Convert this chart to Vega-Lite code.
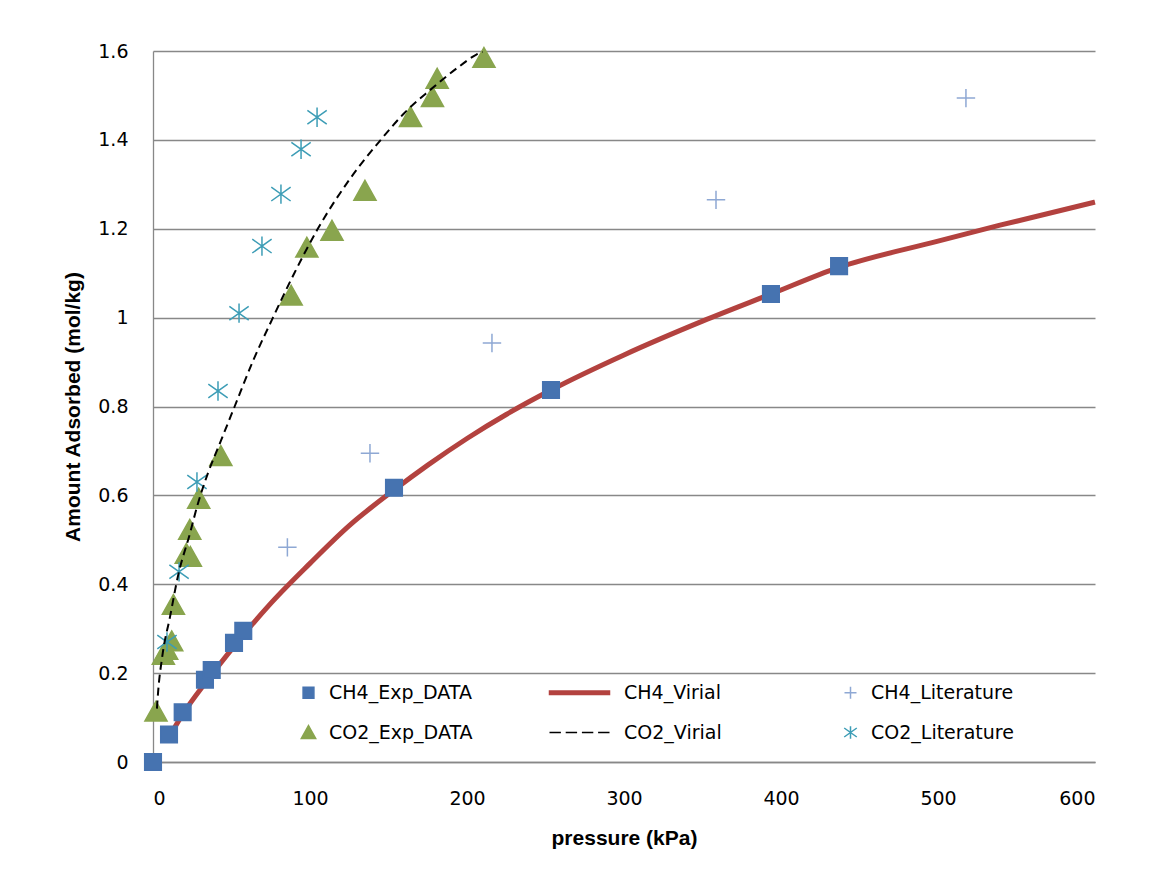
{
  "$schema": "https://vega.github.io/schema/vega-lite/v6.json",
  "autosize": {"type": "none"},
  "padding": {"left": 153, "top": 51, "right": 63, "bottom": 126},
  "width": 942,
  "height": 711,
  "background": "white",
  "config": {"view": {"stroke": null}},
  "datasets": {
    "pts": [
      {"series": "CH4_Exp_DATA", "p": 0, "q": 0},
      {"series": "CH4_Exp_DATA", "p": 10.2, "q": 0.062},
      {"series": "CH4_Exp_DATA", "p": 18.9, "q": 0.112},
      {"series": "CH4_Exp_DATA", "p": 33.1, "q": 0.185},
      {"series": "CH4_Exp_DATA", "p": 37.4, "q": 0.207},
      {"series": "CH4_Exp_DATA", "p": 51.6, "q": 0.268},
      {"series": "CH4_Exp_DATA", "p": 57.5, "q": 0.295},
      {"series": "CH4_Exp_DATA", "p": 153.5, "q": 0.617},
      {"series": "CH4_Exp_DATA", "p": 253.5, "q": 0.837},
      {"series": "CH4_Exp_DATA", "p": 393.6, "q": 1.053},
      {"series": "CH4_Exp_DATA", "p": 437, "q": 1.116},
      {"series": "CO2_Exp_DATA", "p": 1.9, "q": 0.113},
      {"series": "CO2_Exp_DATA", "p": 6.6, "q": 0.241},
      {"series": "CO2_Exp_DATA", "p": 8.7, "q": 0.252},
      {"series": "CO2_Exp_DATA", "p": 11.9, "q": 0.271},
      {"series": "CO2_Exp_DATA", "p": 13, "q": 0.353},
      {"series": "CO2_Exp_DATA", "p": 21.2, "q": 0.468},
      {"series": "CO2_Exp_DATA", "p": 23.8, "q": 0.461},
      {"series": "CO2_Exp_DATA", "p": 23.4, "q": 0.522},
      {"series": "CO2_Exp_DATA", "p": 29.1, "q": 0.592},
      {"series": "CO2_Exp_DATA", "p": 43.2, "q": 0.688},
      {"series": "CO2_Exp_DATA", "p": 88, "q": 1.049},
      {"series": "CO2_Exp_DATA", "p": 98, "q": 1.157},
      {"series": "CO2_Exp_DATA", "p": 114, "q": 1.195},
      {"series": "CO2_Exp_DATA", "p": 135, "q": 1.285},
      {"series": "CO2_Exp_DATA", "p": 164, "q": 1.451},
      {"series": "CO2_Exp_DATA", "p": 178, "q": 1.496},
      {"series": "CO2_Exp_DATA", "p": 181, "q": 1.537},
      {"series": "CO2_Exp_DATA", "p": 210.8, "q": 1.584},
      {"series": "CH4_Literature", "p": 85.6, "q": 0.483},
      {"series": "CH4_Literature", "p": 138.2, "q": 0.695},
      {"series": "CH4_Literature", "p": 215.9, "q": 0.943},
      {"series": "CH4_Literature", "p": 358.6, "q": 1.265},
      {"series": "CH4_Literature", "p": 517.8, "q": 1.494},
      {"series": "CO2_Literature", "p": 8.9, "q": 0.27},
      {"series": "CO2_Literature", "p": 16.6, "q": 0.428},
      {"series": "CO2_Literature", "p": 28, "q": 0.63},
      {"series": "CO2_Literature", "p": 41.4, "q": 0.835},
      {"series": "CO2_Literature", "p": 54.8, "q": 1.01},
      {"series": "CO2_Literature", "p": 69.4, "q": 1.161},
      {"series": "CO2_Literature", "p": 81.5, "q": 1.278},
      {"series": "CO2_Literature", "p": 94.3, "q": 1.379},
      {"series": "CO2_Literature", "p": 104.5, "q": 1.451}
    ],
    "lines": [
      {"series": "CH4_Virial", "p": 10, "q": 0.055},
      {"series": "CH4_Virial", "p": 18.5, "q": 0.105},
      {"series": "CH4_Virial", "p": 33.8, "q": 0.18},
      {"series": "CH4_Virial", "p": 52, "q": 0.262},
      {"series": "CH4_Virial", "p": 75, "q": 0.357},
      {"series": "CH4_Virial", "p": 100, "q": 0.447},
      {"series": "CH4_Virial", "p": 125, "q": 0.532},
      {"series": "CH4_Virial", "p": 153.5, "q": 0.612},
      {"series": "CH4_Virial", "p": 175, "q": 0.668},
      {"series": "CH4_Virial", "p": 200, "q": 0.728},
      {"series": "CH4_Virial", "p": 225, "q": 0.782},
      {"series": "CH4_Virial", "p": 253.5, "q": 0.837},
      {"series": "CH4_Virial", "p": 300, "q": 0.916},
      {"series": "CH4_Virial", "p": 350, "q": 0.992},
      {"series": "CH4_Virial", "p": 393.6, "q": 1.053},
      {"series": "CH4_Virial", "p": 436, "q": 1.112},
      {"series": "CH4_Virial", "p": 500, "q": 1.172},
      {"series": "CH4_Virial", "p": 539.5, "q": 1.208},
      {"series": "CH4_Virial", "p": 600, "q": 1.26},
      {"series": "CO2_Virial", "p": 2.5, "q": 0.12},
      {"series": "CO2_Virial", "p": 3.2, "q": 0.155},
      {"series": "CO2_Virial", "p": 6, "q": 0.24},
      {"series": "CO2_Virial", "p": 10.8, "q": 0.326},
      {"series": "CO2_Virial", "p": 16, "q": 0.42},
      {"series": "CO2_Virial", "p": 23.6, "q": 0.515},
      {"series": "CO2_Virial", "p": 28, "q": 0.574},
      {"series": "CO2_Virial", "p": 35, "q": 0.65},
      {"series": "CO2_Virial", "p": 42.7, "q": 0.718},
      {"series": "CO2_Virial", "p": 52, "q": 0.8},
      {"series": "CO2_Virial", "p": 64, "q": 0.905},
      {"series": "CO2_Virial", "p": 76.4, "q": 1.0},
      {"series": "CO2_Virial", "p": 90, "q": 1.1},
      {"series": "CO2_Virial", "p": 104.5, "q": 1.197},
      {"series": "CO2_Virial", "p": 125, "q": 1.31},
      {"series": "CO2_Virial", "p": 146, "q": 1.404},
      {"series": "CO2_Virial", "p": 160, "q": 1.46},
      {"series": "CO2_Virial", "p": 176.4, "q": 1.512},
      {"series": "CO2_Virial", "p": 195, "q": 1.565},
      {"series": "CO2_Virial", "p": 206, "q": 1.592},
      {"series": "CO2_Virial", "p": 210, "q": 1.598}
    ]
  },
  "encoding": {
    "x": {
      "field": "p", "type": "quantitative",
      "scale": {"domain": [0, 600], "nice": false, "zero": false},
      "axis": {
        "values": [0, 100, 200, 300, 400, 500, 600],
        "grid": false, "ticks": false, "tickSize": 0,
        "domain": true, "domainColor": "#888888", "domainWidth": 1.3,
        "labelPadding": 27, "labelFont": "DejaVu Sans", "labelFontSize": 19, "labelColor": "#000000",
        "title": "pressure (kPa)", "titleFont": "Liberation Sans", "titleFontSize": 21, "titleFontWeight": "bold", "titleColor": "#000000",
        "titleX": 471, "titleY": 76, "titleAlign": "center", "titleBaseline": "middle"
      }
    },
    "y": {
      "field": "q", "type": "quantitative",
      "scale": {"domain": [0, 1.6], "nice": false, "zero": false},
      "axis": {
        "values": [0, 0.2, 0.4, 0.6, 0.8, 1, 1.2, 1.4, 1.6],
        "format": "~g",
        "grid": true, "gridColor": "#888888", "gridWidth": 1.3,
        "ticks": false, "tickSize": 0,
        "domain": true, "domainColor": "#888888", "domainWidth": 1.3,
        "labelPadding": 25, "labelFont": "DejaVu Sans", "labelFontSize": 19, "labelColor": "#000000",
        "title": "Amount Adsorbed (mol/kg)", "titleFont": "Liberation Sans", "titleFontSize": 21, "titleFontWeight": "bold", "titleColor": "#000000",
        "titleX": -80, "titleY": 355.5, "titleAngle": -90, "titleAlign": "center", "titleBaseline": "middle"
      }
    }
  },
  "layer": [
    {
      "data": {"name": "lines"},
      "transform": [{"filter": "datum.series === 'CH4_Virial'"}],
      "mark": {"type": "line", "color": "#B3423F", "strokeWidth": 5, "interpolate": "monotone"},
      "encoding": {}
    },
    {
      "data": {"name": "pts"},
      "mark": {"type": "point", "filled": true, "size": 340, "strokeWidth": 1.5, "opacity": 1},
      "encoding": {
        "fill": {
          "field": "series", "type": "nominal",
          "scale": {
            "domain": ["CH4_Exp_DATA", "CH4_Virial", "CH4_Literature", "CO2_Exp_DATA", "CO2_Virial", "CO2_Literature"],
            "range": ["#4673B0", "#B3423F", "#8EA8D4", "#89A54E", "#000000", "#3D9DB6"]
          },
          "legend": {
            "orient": "none", "legendX": 146, "legendY": 632, "columns": 3, "direction": "horizontal",
            "title": null, "symbolSize": 144, "labelFont": "DejaVu Sans", "labelFontSize": 19, "labelColor": "#000000",
            "labelOffset": 11, "rowPadding": 19, "columnPadding": 73, "symbolStrokeWidth": 1.5, "labelLimit": 400
          }
        },
        "stroke": {
          "field": "series", "type": "nominal",
          "scale": {
            "domain": ["CH4_Exp_DATA", "CH4_Virial", "CH4_Literature", "CO2_Exp_DATA", "CO2_Virial", "CO2_Literature"],
            "range": ["#4673B0", "#B3423F", "#8EA8D4", "#89A54E", "#000000", "#3D9DB6"]
          },
          "legend": {
            "orient": "none", "legendX": 146, "legendY": 632, "columns": 3, "direction": "horizontal",
            "title": null, "symbolSize": 144, "labelFont": "DejaVu Sans", "labelFontSize": 19, "labelColor": "#000000",
            "labelOffset": 11, "rowPadding": 19, "columnPadding": 73, "symbolStrokeWidth": 1.5, "labelLimit": 400
          }
        },
        "shape": {
          "field": "series", "type": "nominal",
          "scale": {
            "domain": ["CH4_Exp_DATA", "CH4_Virial", "CH4_Literature", "CO2_Exp_DATA", "CO2_Virial", "CO2_Literature"],
            "range": [
              "M-0.9,-0.9H0.9V0.9H-0.9Z",
              "M-9,-0.3H1V0.3H-9Z",
              "M-8.6,0M-1,0H1M0,-1V1",
              "M0,-1.15L1.2,1H-1.2Z",
              "M-9,0H-7.1M-6.3,0H-4.4M-3.6,0H-1.7M-0.9,0H1",
              "M-8.6,0M0,-1.05V1.05M-1.05,-0.75L1.05,0.75M-1.05,0.75L1.05,-0.75"
            ]
          },
          "legend": {
            "orient": "none", "legendX": 146, "legendY": 632, "columns": 3, "direction": "horizontal",
            "title": null, "symbolSize": 144, "labelFont": "DejaVu Sans", "labelFontSize": 19, "labelColor": "#000000",
            "labelOffset": 11, "rowPadding": 19, "columnPadding": 73, "symbolStrokeWidth": 1.5, "labelLimit": 400
          }
        }
      }
    },
    {
      "data": {"name": "lines"},
      "transform": [{"filter": "datum.series === 'CO2_Virial'"}],
      "mark": {"type": "line", "color": "#000000", "strokeWidth": 2, "strokeDash": [8, 5], "interpolate": "monotone"},
      "encoding": {}
    }
  ]
}
